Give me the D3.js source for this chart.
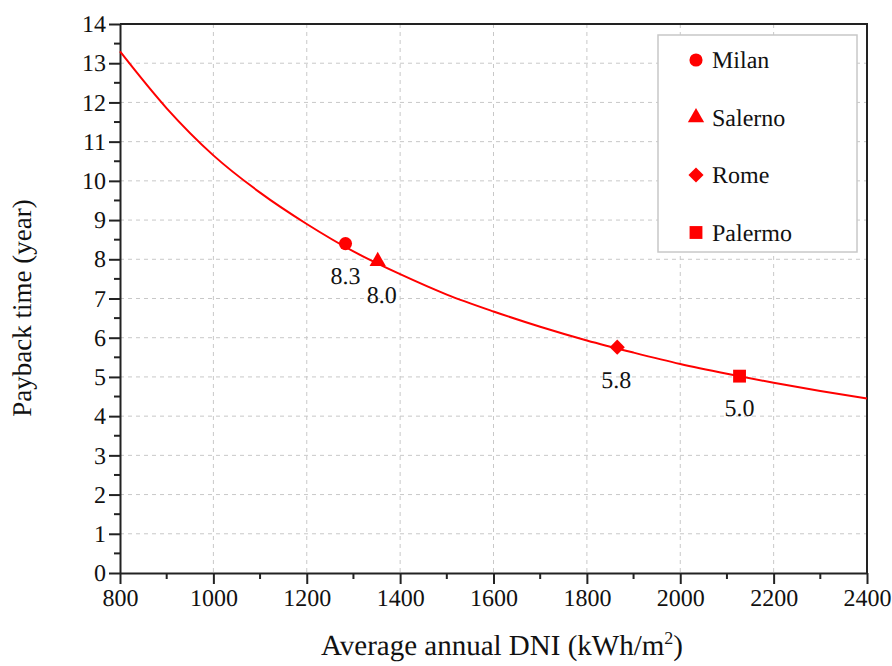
<!DOCTYPE html>
<html>
<head>
<meta charset="utf-8">
<script src="https://cdn.jsdelivr.net/npm/d3@7"></script>
<style>
  body { margin: 0; background: #fff; }
  text { font-family: "Liberation Serif", "Times New Roman", serif; fill: #111; }
</style>
</head>
<body>
<div id="chart"></div>
<script>
// curve
var curveDni = [800, 900, 1000, 1100, 1200, 1300, 1400, 1500, 1600, 1700, 1800, 1900, 2000, 2100, 2200, 2300, 2400];
var curvePayback = [13.3, 11.85, 10.65, 9.7, 8.9, 8.2, 7.62, 7.1, 6.67, 6.28, 5.93, 5.62, 5.33, 5.08, 4.85, 4.64, 4.45];

// cities
var cities = ['Milan', 'Salerno', 'Rome', 'Palermo'];
var cityDni = [1283, 1352, 1865, 2127];
var cityPayback = [8.4, 7.95, 5.76, 5.02];
var cityLabels = ['8.3', '8.0', '5.8', '5.0'];

var xTicks = [800, 1000, 1200, 1400, 1600, 1800, 2000, 2200, 2400];
var yTicks = d3.range(0, 15);

var serif = '"Liberation Serif", "Times New Roman", serif';

var svgWidth = 892, svgHeight = 666;
var margin = {top: 24, right: 25, bottom: 93, left: 120};
var width = svgWidth - margin.left - margin.right;
var height = svgHeight - margin.top - margin.bottom;

var svg = d3.select('#chart').append('svg')
    .attr('width', svgWidth).attr('height', svgHeight)
    .attr('font-family', serif)
    .attr('text-rendering', 'geometricPrecision');

var g = svg.append('g')
    .attr('transform', 'translate(' + margin.left + ',' + margin.top + ')');

var x = d3.scaleLinear().domain([800, 2400]).range([0, width]);
var y = d3.scaleLinear().domain([0, 14]).range([height, 0]);

// marker shapes (diamond = rotated square)
var markers = [
    {type: d3.symbolCircle, size: 135, rot: 0},
    {type: d3.symbolTriangle, size: 115, rot: 0},
    {type: d3.symbolSquare, size: 115, rot: 45},
    {type: d3.symbolSquare, size: 165, rot: 0}
];

// grid
g.append('g').selectAll('line').data(xTicks.slice(1, -1)).enter().append('line')
    .attr('x1', function(d) { return x(d); }).attr('x2', function(d) { return x(d); })
    .attr('y1', 0).attr('y2', height)
    .attr('stroke', '#c8c8c8').attr('stroke-dasharray', '4,4');
g.append('g').selectAll('line').data(yTicks.slice(1, -1)).enter().append('line')
    .attr('y1', function(d) { return y(d); }).attr('y2', function(d) { return y(d); })
    .attr('x1', 0).attr('x2', width)
    .attr('stroke', '#c8c8c8').attr('stroke-dasharray', '4,4');

// frame top / right
g.append('path')
    .attr('d', 'M0,0H' + width + 'V' + height)
    .attr('fill', 'none').attr('stroke', '#222').attr('stroke-width', 2);

// minor ticks
var xMinor = d3.range(900, 2400, 200);
var yMinor = d3.range(0.5, 14, 1);
g.append('g').selectAll('line').data(xMinor).enter().append('line')
    .attr('x1', function(d) { return x(d); }).attr('x2', function(d) { return x(d); })
    .attr('y1', height).attr('y2', height + 6)
    .attr('stroke', '#222').attr('stroke-width', 2);
g.append('g').selectAll('line').data(yMinor).enter().append('line')
    .attr('y1', function(d) { return y(d); }).attr('y2', function(d) { return y(d); })
    .attr('x1', 0).attr('x2', -6)
    .attr('stroke', '#222').attr('stroke-width', 2);

// axes
var xAxis = g.append('g')
    .attr('transform', 'translate(0,' + height + ')')
    .call(d3.axisBottom(x).tickValues(xTicks).tickFormat(d3.format('d'))
        .tickSize(11).tickPadding(5).tickSizeOuter(0));
var yAxis = g.append('g')
    .call(d3.axisLeft(y).tickValues(yTicks).tickFormat(d3.format('d'))
        .tickSize(11).tickPadding(3).tickSizeOuter(0));

[xAxis, yAxis].forEach(function(a) {
    a.attr('font-family', serif).attr('font-size', 24);
    a.select('.domain').attr('stroke', '#222').attr('stroke-width', 2);
    a.selectAll('.tick line').attr('stroke', '#222').attr('stroke-width', 2);
    a.selectAll('.tick text').attr('fill', '#111');
});

// curve
var line = d3.line()
    .x(function(d, i) { return x(curveDni[i]); })
    .y(function(d) { return y(d); })
    .curve(d3.curveMonotoneX);

g.append('path')
    .datum(curvePayback)
    .attr('d', line)
    .attr('fill', 'none').attr('stroke', '#ff0000').attr('stroke-width', 2);

function markerPath(i) {
    return d3.symbol().type(markers[i].type).size(markers[i].size)();
}

// city markers
g.append('g').selectAll('path').data(cities).enter().append('path')
    .attr('transform', function(d, i) {
        return 'translate(' + x(cityDni[i]) + ',' + y(cityPayback[i]) + ') rotate(' + markers[i].rot + ')';
    })
    .attr('d', function(d, i) { return markerPath(i); })
    .attr('fill', '#ff0000');

var labelDx = [0, 4, -1, 0];
var labelDy = [40, 42, 41, 40];
g.append('g').selectAll('text').data(cityLabels).enter().append('text')
    .attr('x', function(d, i) { return x(cityDni[i]) + labelDx[i]; })
    .attr('y', function(d, i) { return y(cityPayback[i]) + labelDy[i]; })
    .attr('text-anchor', 'middle')
    .attr('font-size', 24)
    .text(function(d) { return d; });

// legend
var legend = svg.append('g').attr('transform', 'translate(658,35)');
legend.append('rect')
    .attr('width', 199).attr('height', 217)
    .attr('fill', '#fff').attr('stroke', '#c8c8c8').attr('stroke-width', 1.5);
var item = legend.selectAll('g.item').data(cities).enter().append('g')
    .attr('class', 'item')
    .attr('transform', function(d, i) { return 'translate(0,' + (25 + i * 57.5) + ')'; });
item.append('path')
    .attr('transform', function(d, i) { return 'translate(38,0) rotate(' + markers[i].rot + ')'; })
    .attr('d', function(d, i) { return markerPath(i); })
    .attr('fill', '#ff0000');
item.append('text')
    .attr('x', 54).attr('y', 8)
    .attr('font-size', 24)
    .text(function(d) { return d; });

// axis titles
svg.append('text')
    .attr('x', 502).attr('y', 655)
    .attr('text-anchor', 'middle')
    .attr('font-size', 29)
    .html('Average annual DNI (kWh/m<tspan dy="-11" font-size="18">2</tspan><tspan dy="11">)</tspan>');

svg.append('text')
    .attr('transform', 'translate(31,308) rotate(-90)')
    .attr('text-anchor', 'middle')
    .attr('font-size', 27)
    .text('Payback time (year)');
</script>
</body>
</html>
